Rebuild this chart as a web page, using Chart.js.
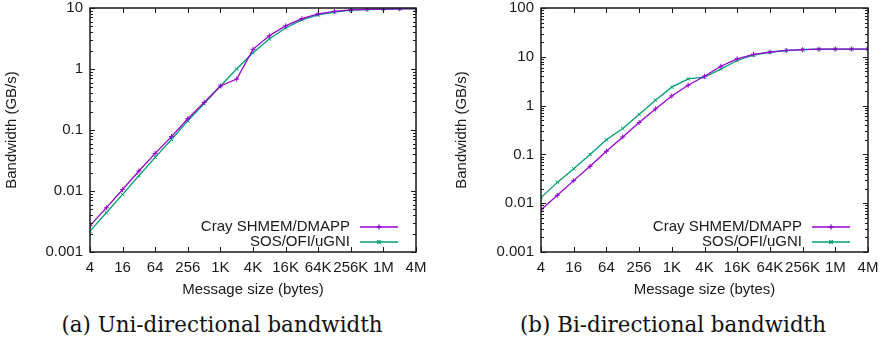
<!DOCTYPE html>
<html>
<head>
<meta charset="utf-8">
<script src="https://cdn.jsdelivr.net/npm/chart.js@4/dist/chart.umd.min.js"></script>
<style>
  html, body { margin:0; padding:0; background:#fff; }
  body { width:883px; height:346px; position:relative; overflow:hidden; }
  canvas { position:absolute; top:0; }
  .cap { position:absolute; top:312px; font:21.4px "DejaVu Serif", serif; color:#111; white-space:nowrap; transform:translateX(-50%); }
</style>
</head>
<body>
<canvas id="uni" width="440" height="300" style="left:0"></canvas>
<canvas id="bi" width="443" height="300" style="left:440px"></canvas>
<div class="cap" style="left:222px">(a) Uni-directional bandwidth</div>
<div class="cap" style="left:673px">(b) Bi-directional bandwidth</div>
<script>
// message sizes in bytes (x categories)
const SIZES = [4, 8, 16, 32, 64, 128, 256, 512, 1024, 2048, 4096, 8192, 16384, 32768,
  65536, 131072, 262144, 524288, 1048576, 2097152, 4194304];
const XTICKS = [4, 16, 64, 256, 1024, 4096, 16384, 65536, 262144, 1048576, 4194304];
const XTICK_LABELS = ["4","16","64","256","1K","4K","16K","64K","256K","1M","4M"];

// bandwidth, GB/s
const UNI_CRAY = [0.0027, 0.0053, 0.0106, 0.0213, 0.0414, 0.078, 0.153, 0.284, 0.526, 0.685,
  2.1, 3.5, 5.1, 6.7, 8.0, 8.8, 9.3, 9.5, 9.6, 9.7, 9.75];
const UNI_SOS = [0.0022, 0.0044, 0.0088, 0.0178, 0.0356, 0.070, 0.141, 0.270, 0.526, 1.0,
  1.85, 3.1, 4.7, 6.4, 7.7, 8.6, 9.2, 9.45, 9.6, 9.7, 9.75];
const BI_CRAY = [0.0073, 0.0145, 0.029, 0.057, 0.116, 0.228, 0.45, 0.855, 1.58, 2.62,
  4.0, 6.4, 9.1, 11.2, 12.5, 13.5, 14.0, 14.3, 14.4, 14.4, 14.4];
const BI_SOS = [0.013, 0.0267, 0.051, 0.10, 0.20, 0.34, 0.66, 1.29, 2.39, 3.53,
  3.83, 5.6, 8.4, 10.8, 12.4, 13.4, 14.0, 14.3, 14.4, 14.4, 14.4];

const UNI_YTICKS = [0.001, 0.01, 0.1, 1, 10];
const UNI_YLABELS = ["0.001", "0.01", "0.1", "1", "10"];
const BI_YTICKS = [0.001, 0.01, 0.1, 1, 10, 100];
const BI_YLABELS = ["0.001", "0.01", "0.1", "1", "10", "100"];

const SERIES = ["Cray SHMEM/DMAPP", "SOS/OFI/uGNI"];
const COLORS = ["#9400d3", "#009e73"];
const MARKERS = ["cross", "crossRot"];
const FONT = { family: "'Liberation Sans', Arial, sans-serif", size: 15 };
const INK = "#1a1a1a";

// gnuplot-style box with inward ticks (both sides) and a legend inside the plot
const gnuFrame = {
  id: "gnuFrame",
  afterDatasetsDraw(chart){
    const { ctx, chartArea: a, scales: { x, y } } = chart;
    ctx.save();
    ctx.strokeStyle = INK; ctx.lineWidth = 1;
    ctx.beginPath();
    x.ticks.forEach(t => {
      const px = Math.round(x.getPixelForValue(t.value)) + 0.5;
      ctx.moveTo(px, a.bottom); ctx.lineTo(px, a.bottom - 5);
      ctx.moveTo(px, a.top); ctx.lineTo(px, a.top + 5);
    });
    y.ticks.forEach(t => {
      const py = Math.round(y.getPixelForValue(t.value)) + 0.5;
      ctx.moveTo(a.left, py); ctx.lineTo(a.left + 5, py);
      ctx.moveTo(a.right, py); ctx.lineTo(a.right - 5, py);
      if (t.value >= y.max) return;
      for (let m = 2; m <= 9; m++){
        const q = Math.round(y.getPixelForValue(t.value * m)) + 0.5;
        ctx.moveTo(a.left, q); ctx.lineTo(a.left + 3, q);
        ctx.moveTo(a.right, q); ctx.lineTo(a.right - 3, q);
      }
    });
    ctx.stroke();
    ctx.lineWidth = 1.5;
    ctx.strokeRect(a.left, a.top, a.right - a.left, a.bottom - a.top);

    // legend
    ctx.font = `${FONT.size}px ${FONT.family}`;
    ctx.textAlign = "right"; ctx.textBaseline = "middle"; ctx.fillStyle = INK;
    chart.data.datasets.forEach((ds, i) => {
      const ly = a.bottom - 25 + i * 15;
      ctx.fillText(ds.label, a.right - 66, ly);
      ctx.strokeStyle = ds.borderColor; ctx.lineWidth = 1.3;
      ctx.beginPath(); ctx.moveTo(a.right - 56, ly); ctx.lineTo(a.right - 18, ly); ctx.stroke();
      Chart.helpers.drawPoint(ctx, { pointStyle: ds.pointStyle, radius: 2.5, rotation: 0, borderWidth: 1 }, a.right - 37, ly);
    });
    ctx.restore();
  }
};

function makeChart(id, series, yTicks, yLabels, pad){
  new Chart(document.getElementById(id), {
    type: "line",
    data: {
      labels: SIZES,
      datasets: series.map((vals, i) => ({
        label: SERIES[i],
        data: SIZES.map((s, k) => ({ x: s, y: vals[k] })),
        borderColor: COLORS[i], backgroundColor: COLORS[i],
        pointStyle: MARKERS[i], pointRadius: 2.5, pointBorderWidth: 1,
        borderWidth: 1.3, tension: 0, fill: false,
      })),
    },
    options: {
      responsive: false, animation: false, devicePixelRatio: 1,
      layout: { padding: { left: 0, top: 8, right: pad.right, bottom: 0 } },
      plugins: { legend: { display: false }, tooltip: { enabled: false } },
      scales: {
        x: {
          type: "logarithmic", min: SIZES[0], max: SIZES[SIZES.length - 1],
          grid: { display: false, drawTicks: false }, border: { display: false },
          afterBuildTicks: s => { s.ticks = XTICKS.map(v => ({ value: v })); },
          afterFit: s => { s.height = 48; s.paddingLeft = 0; s.paddingRight = 0; },
          ticks: { autoSkip: false, maxRotation: 0, padding: 7, color: INK, font: FONT,
            callback: (v, i) => XTICK_LABELS[i] },
          title: { display: true, text: "Message size (bytes)", color: INK, font: FONT, padding: { top: 0, bottom: 1 } },
        },
        y: {
          type: "logarithmic", min: yTicks[0], max: yTicks[yTicks.length - 1],
          grid: { display: false, drawTicks: false }, border: { display: false },
          afterBuildTicks: s => { s.ticks = yTicks.map(v => ({ value: v })); },
          afterFit: s => { s.width = pad.left; s.paddingTop = 0; s.paddingBottom = 0; },
          ticks: { autoSkip: false, padding: 7, color: INK, font: FONT,
            callback: (v, i) => yLabels[i] },
          title: { display: true, text: "Bandwidth (GB/s)", color: INK, font: FONT, padding: { top: pad.title, bottom: 0 } },
        },
      },
    },
    plugins: [gnuFrame],
  });
}

makeChart("uni", [UNI_CRAY, UNI_SOS], UNI_YTICKS, UNI_YLABELS, { left: 90, right: 24, title: 3 });
makeChart("bi", [BI_CRAY, BI_SOS], BI_YTICKS, BI_YLABELS, { left: 101, right: 15, title: 13 });
</script>
</body>
</html>
